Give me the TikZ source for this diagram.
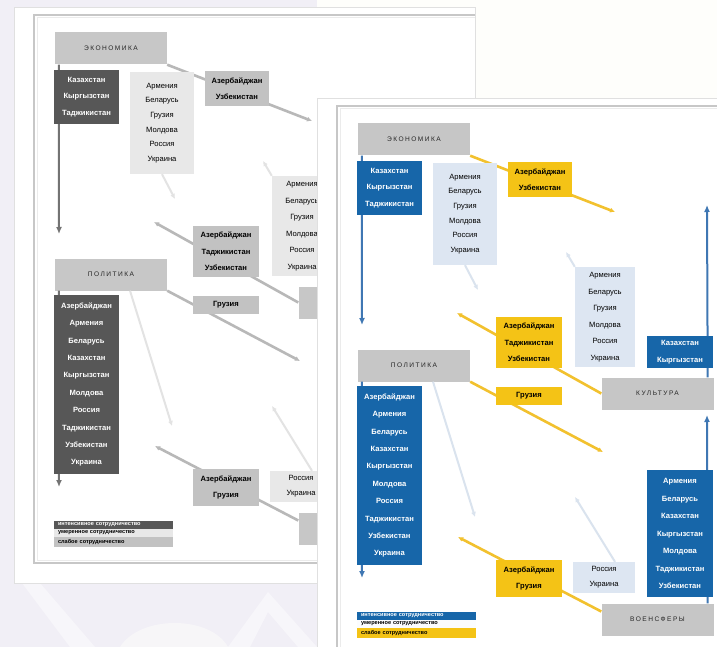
\documentclass[tikz,border=0pt]{standalone}
\usepackage{fontspec}
\setmainfont{Liberation Sans}
\newfontfamily\spacedfont[LetterSpace=22]{Liberation Sans}
\usepackage{tikz}
\usetikzlibrary{arrows.meta,positioning,calc}

\definecolor{lavbg}{HTML}{F1EFF6}
\definecolor{creambg}{HTML}{FEFEFB}

\tikzset{
	sphere/.style={fill=cHead, minimum width=112, minimum height=32, inner sep=0,
		font=\spacedfont\fontsize{6.6}{8}\selectfont, text=black!85},
	listbox/.style={inner sep=0, align=center, minimum width=65,
		font=\fontsize{7.6}{16.5}\selectfont\bfseries},
	darklist/.style={listbox, fill=cDark, text=white},
	lightlist/.style={listbox, fill=cLight, text=black, font=\fontsize{7.6}{16.5}\selectfont},
	yellowlist/.style={listbox, fill=cYel, text=black},
	legendrow/.style={inner sep=0, minimum width=119, text width=111, align=left,
		font=\fontsize{5.6}{6}\selectfont\bfseries},
	blueline/.style={draw=cBlueLine, line width=2, -{Latex[length=7,width=6]}},
	yellowline/.style={draw=cYelLine, line width=2.6, -{Latex[length=5,width=5]}},
	faintline/.style={draw=cFaint, line width=2, -{Latex[length=5,width=5]}},
}

\newcommand{\spheres}[1]{%
	% сферы
	\node[sphere] (#1econ) at (414,139.5) {ЭКОНОМИКА};
	\node[sphere] (#1pol) at (414,365.5) {ПОЛИТИКА};
	\node[sphere] (#1kult) at (657.5,393.5) {КУЛЬТУРА};
	\node[sphere] (#1voen) at (657.5,619.5) {ВОЕНСФЕРЫ};
	% свободные концы стрелок
	\coordinate (#1eTip) at (362,325);
	\coordinate (#1pTip) at (362,578);
	\coordinate (#1kTip) at (707,205);
	\coordinate (#1vTip) at (707,415);
	\coordinate (#1ekY) at (615,212);
	\coordinate (#1kuY) at (457,313);
	\coordinate (#1poY) at (603,452);
	\coordinate (#1vsY) at (458,537);
	\coordinate (#1ekF) at (478,290);
	\coordinate (#1kuF) at (566,252);
	\coordinate (#1poF) at (475,517);
	\coordinate (#1vsF) at (575,497);
	% стрелки
	\draw[blueline] ([xshift=4]#1econ.south west) -- (#1eTip);
	\draw[blueline] ([xshift=4]#1pol.south west) -- (#1pTip);
	\draw[blueline] ([xshift=-6]#1kult.north east) -- (#1kTip);
	\draw[blueline] ([xshift=-6]#1voen.north east) -- (#1vTip);
	\draw[yellowline] (#1econ.south east) -- (#1ekY);
	\draw[yellowline] (#1kult.west) -- (#1kuY);
	\draw[yellowline] (#1pol.south east) -- (#1poY);
	\draw[yellowline] ([yshift=8]#1voen.west) -- (#1vsY);
	% страны
	\node[darklist, minimum height=54] (#1ekA) at (389.5,188) {Казахстан\\Кыргызстан\\Таджикистан};
	\node[lightlist, minimum width=64, minimum height=102, font=\fontsize{7.6}{14.6}\selectfont] (#1ekB) at (465,214)
		{Армения\\Беларусь\\Грузия\\Молдова\\Россия\\Украина};
	\node[yellowlist, minimum width=64, minimum height=35] (#1ekC) at (540,179.5) {Азербайджан\\Узбекистан};
	\node[darklist, minimum width=66, minimum height=32] (#1kuA) at (680,352) {Казахстан\\Кыргызстан};
	\node[lightlist, minimum width=60, minimum height=100] (#1kuB) at (605,317)
		{Армения\\Беларусь\\Грузия\\Молдова\\Россия\\Украина};
	\node[yellowlist, minimum width=66, minimum height=51] (#1kuC) at (529,342.5) {Азербайджан\\Таджикистан\\Узбекистан};
	\node[darklist, minimum height=179, font=\fontsize{7.6}{17.4}\selectfont\bfseries] (#1poA) at (389.5,475.5)
		{Азербайджан\\Армения\\Беларусь\\Казахстан\\Кыргызстан\\Молдова\\Россия\\Таджикистан\\Узбекистан\\Украина};
	\node[yellowlist, minimum width=66, minimum height=18] (#1poC) at (529,396) {Грузия};
	\node[darklist, minimum width=66, minimum height=127, font=\fontsize{7.6}{17.5}\selectfont\bfseries] (#1vsA) at (680,533.5)
		{Армения\\Беларусь\\Казахстан\\Кыргызстан\\Молдова\\Таджикистан\\Узбекистан};
	\node[lightlist, minimum width=62, minimum height=31, font=\fontsize{7.6}{15}\selectfont] (#1vsB) at (604,577.5) {Россия\\Украина};
	\node[yellowlist, minimum width=66, minimum height=37] (#1vsC) at (529,578.5) {Азербайджан\\Грузия};
	\draw[faintline] (#1ekB.south) -- (#1ekF);
	\draw[faintline] (#1kuB.north west) -- (#1kuF);
	\draw[faintline] ([xshift=19]#1pol.south) -- (#1poF);
	\draw[faintline] ([xshift=11]#1vsB.north) -- (#1vsF);
	% легенда
	\node[legendrow, fill=cDark, text=white, minimum height=7.5] (#1lgA) at (416.5,615.75) {интенсивное сотрудничество};
	\node[legendrow, fill=cLegMid, minimum height=8, below=0 of #1lgA] (#1lgB) {умеренное сотрудничество};
	\node[legendrow, fill=cYel, minimum height=9.5, below=0 of #1lgB] (#1lgC) {слабое сотрудничество};
}

\begin{document}
\begin{tikzpicture}[x=1pt, y=-1pt]
	\useasboundingbox (0,0) rectangle (717,647);
	% фон
	\fill[lavbg] (0,0) rectangle (717,647);
	\fill[creambg] (317,0) rectangle (717,98);
	\fill[white, opacity=0.45] (22,583) -- (40,583) -- (95,647) -- (70,647) -- cycle;
	\fill[white, opacity=0.45] (228,647) -- (268,592) -- (317,647) -- (298,647) -- (268,612) -- (250,647) -- cycle;
	\fill[creambg, opacity=0.5] (120,647) .. controls (140,615) and (210,615) .. (228,647) -- cycle;
	% задний лист
	\filldraw[fill=white, draw=black!12, line width=0.8] (14,7) rectangle (475,583);
	\draw[black!22, line width=1.6] (475,15) -- (34,15) -- (34,563) -- (475,563);
	\draw[black!8, line width=1] (475,18) -- (37,18) -- (37,560) -- (475,560);
	\begin{scope}[shift={(-303,-91)}]
		\colorlet{cHead}{black!22}
		\colorlet{cDark}{black!66}
		\colorlet{cLight}{black!9}
		\colorlet{cYel}{black!24}
		\colorlet{cLegMid}{black!9}
		\colorlet{cBlueLine}{black!55}
		\colorlet{cYelLine}{black!28}
		\colorlet{cFaint}{black!11}
		\spheres{g}
	\end{scope}
	% передний лист
	\filldraw[fill=white, draw=black!12, line width=0.8] (317,98) rectangle (730,660);
	\draw[black!22, line width=1.6] (337,660) -- (337,106) -- (730,106);
	\draw[black!8, line width=1] (340,660) -- (340,109) -- (730,109);
	\begin{scope}
		\definecolor{cHead}{HTML}{C6C6C6}
		\definecolor{cDark}{HTML}{1766A9}
		\definecolor{cLight}{HTML}{DDE6F2}
		\definecolor{cYel}{HTML}{F4C316}
		\definecolor{cLegMid}{HTML}{FBFCFE}
		\definecolor{cBlueLine}{HTML}{3F77B3}
		\definecolor{cYelLine}{HTML}{F2C12E}
		\definecolor{cFaint}{HTML}{DAE3EE}
		\spheres{c}
	\end{scope}
\end{tikzpicture}
\end{document}
